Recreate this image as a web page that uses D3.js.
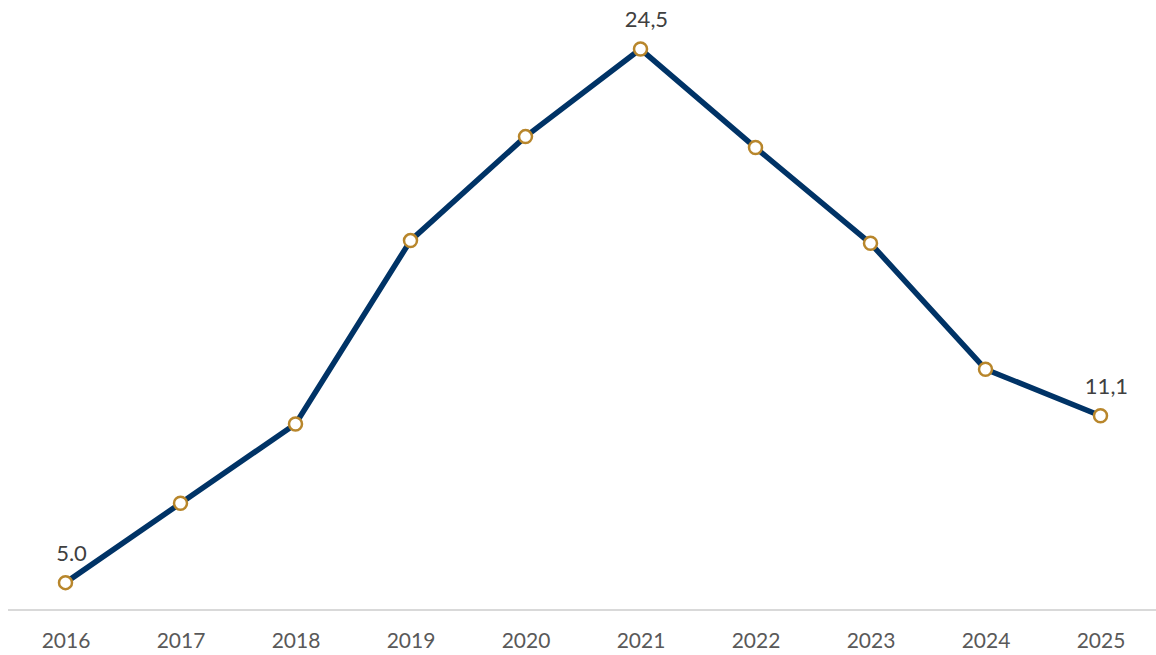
<!DOCTYPE html>
<html>
<head>
<meta charset="utf-8">
<script src="https://cdn.jsdelivr.net/npm/d3@7"></script>
<style>
  body { margin: 0; background: #fff; }
  svg { display: block; font-family: Lato, "Open Sans", sans-serif; }
</style>
</head>
<body>
<div id="plotRegi"></div>
<script>
// Data
var years = ["2016", "2017", "2018", "2019", "2020", "2021", "2022", "2023", "2024", "2025"]
var values = [5.0, 7.9, 10.8, 17.5, 21.3, 24.5, 20.9, 17.4, 12.8, 11.1]
// labels shown only on some points, as in the source
var pointLabels = { "2016": "5.0", "2021": "24,5", "2025": "11,1" }

var width = 1156,
    height = 655

var svg = d3
    .select("#plotRegi")
    .append("svg")
    .attr("width", width)
    .attr("height", height)

// Scales
var scale_x = d3
    .scalePoint()
    .domain(years)
    .range([8, 1158])
    .padding(0.5)

var scale_y = d3
    .scaleLinear()
    .domain([4, 26])
    .range([610, 8])

// X axis
var axisX = svg
    .append("g")
    .attr("id", "AxisX")
    .attr("transform", "translate(0,610)")
    .call(d3.axisBottom(scale_x).tickSize(0).tickPadding(0))

axisX.select(".domain")
    .attr("d", "M8,0H1156")
    .style("stroke", "#d9d9d9")
    .style("stroke-width", "2px")

axisX.selectAll("text")
    .attr("dy", null)
    .attr("y", 38)
    .style("font-family", "Lato, 'Open Sans', sans-serif")
    .style("font-size", "21px")
    .style("fill", "#595959")

// Line
var line = d3.line()
    .x((d, i) => scale_x(years[i]))
    .y(d => scale_y(d))

svg
    .append("path")
    .datum(values)
    .attr("d", line)
    .style("fill", "none")
    .style("stroke", "#003366")
    .style("stroke-width", "5.5px")
    .style("stroke-linejoin", "round")

// Markers
svg
    .append("g")
    .selectAll("circle")
    .data(values)
    .enter()
    .append("circle")
    .attr("cx", (d, i) => scale_x(years[i]))
    .attr("cy", d => scale_y(d))
    .attr("r", 6.5)
    .style("fill", "white")
    .style("stroke", "#b8862b")
    .style("stroke-width", "2.5px")

// Data labels
svg
    .append("g")
    .selectAll("text")
    .data(years.filter(y => pointLabels[y]))
    .enter()
    .append("text")
    .attr("x", d => scale_x(d) + 6)
    .attr("y", d => scale_y(values[years.indexOf(d)]) - 22)
    .attr("text-anchor", "middle")
    .style("font-size", "22px")
    .style("fill", "#404040")
    .text(d => pointLabels[d])
</script>
</body>
</html>
